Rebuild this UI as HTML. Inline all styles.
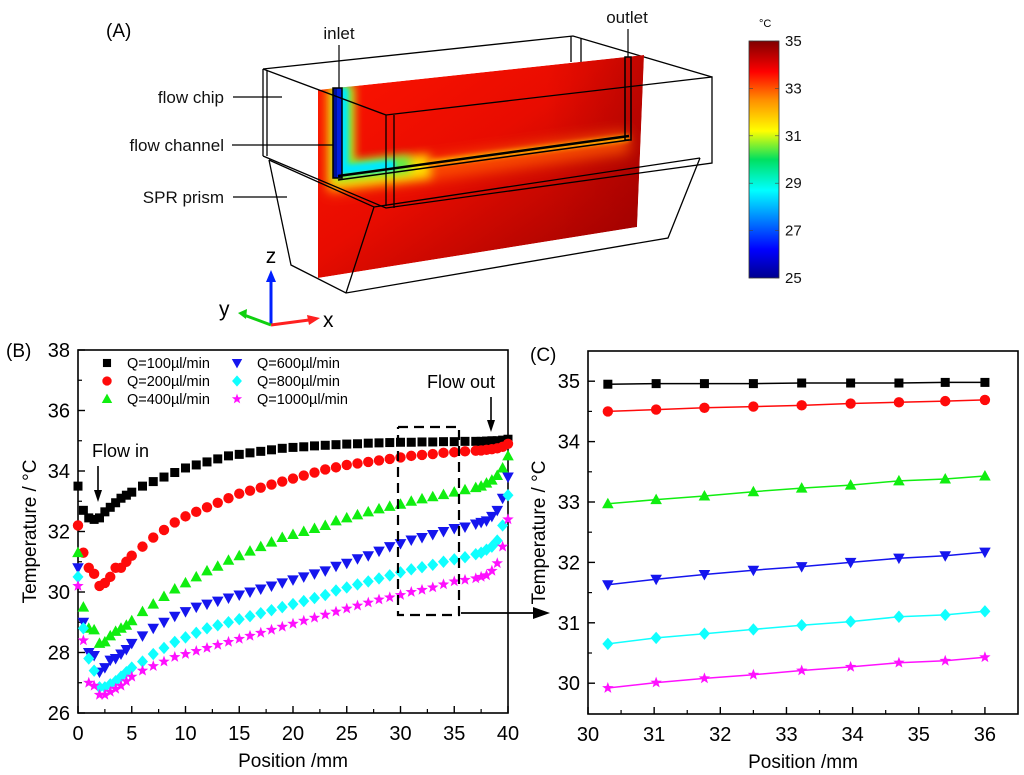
<!DOCTYPE html>
<html><head><meta charset="utf-8">
<style>
html,body{margin:0;padding:0;background:#fff;}
svg{display:block;font-family:"Liberation Sans",Arial,sans-serif;}
</style></head>
<body>
<svg id="fig" width="1024" height="775" viewBox="0 0 1024 775" xmlns="http://www.w3.org/2000/svg">
<defs>
  <clipPath id="planeClip"><polygon points="318,90 644,55 637,227 318,278"/></clipPath>
  <linearGradient id="planeGrad" x1="0" y1="0" x2="1" y2="1">
    <stop offset="0" stop-color="#ff1400"/>
    <stop offset="0.45" stop-color="#e80c00"/>
    <stop offset="1" stop-color="#920000"/>
  </linearGradient>
  <linearGradient id="planeGrad2" x1="0" y1="0" x2="1" y2="0">
    <stop offset="0" stop-color="#ff3000" stop-opacity="0.0"/>
    <stop offset="0.7" stop-color="#b00000" stop-opacity="0.0"/>
    <stop offset="1" stop-color="#a00000" stop-opacity="0.5"/>
  </linearGradient>
  <linearGradient id="jet" x1="0" y1="1" x2="0" y2="0">
    <stop offset="0" stop-color="#00008f"/>
    <stop offset="0.12" stop-color="#0000ff"/>
    <stop offset="0.37" stop-color="#00ffff"/>
    <stop offset="0.5" stop-color="#00e060"/>
    <stop offset="0.62" stop-color="#ffff00"/>
    <stop offset="0.75" stop-color="#ff9000"/>
    <stop offset="0.87" stop-color="#ff0000"/>
    <stop offset="1" stop-color="#800000"/>
  </linearGradient>
  <filter id="blur6" x="-50%" y="-50%" width="200%" height="200%"><feGaussianBlur stdDeviation="5"/></filter>
  <filter id="blur3" x="-50%" y="-50%" width="200%" height="200%"><feGaussianBlur stdDeviation="2.5"/></filter>
  <filter id="blur10" x="-50%" y="-50%" width="200%" height="200%"><feGaussianBlur stdDeviation="7"/></filter>
</defs>

<!-- ========== PANEL A ========== -->
<g>
  <text x="106" y="37" font-size="19">(A)</text>
  <g fill="none" stroke="#000" stroke-width="1.3">
    <polyline points="263,69 573,36 712,77"/>
    <line x1="571" y1="36" x2="571" y2="62"/>
    <line x1="581" y1="38" x2="581" y2="62"/>
    <line x1="263" y1="69" x2="263" y2="156"/>
    <line x1="267" y1="70" x2="267" y2="156"/>
  </g>
  <g clip-path="url(#planeClip)">
    <polygon points="318,90 644,55 637,227 318,278" fill="url(#planeGrad)"/>
    <polygon points="318,90 644,55 637,227 318,278" fill="url(#planeGrad2)"/>
    <polyline points="338,80 338,182 629,142" fill="none" stroke="#ff5a00" stroke-width="22" stroke-opacity="0.8" filter="url(#blur10)"/>
    <polyline points="341,85 341,176 430,166" fill="none" stroke="#ffe000" stroke-width="24" filter="url(#blur6)"/>
    <polyline points="343,85 343,171 410,164" fill="none" stroke="#50f050" stroke-width="16" filter="url(#blur6)"/>
    <polyline points="343,88 343,170 395,165" fill="none" stroke="#00e8ff" stroke-width="10" filter="url(#blur3)"/>
    <polyline points="430,163 629,138" fill="none" stroke="#ffb000" stroke-width="6" filter="url(#blur3)"/>
    <rect x="333" y="88" width="9" height="90" fill="#0020e0"/>
    <rect x="333" y="88" width="4" height="90" fill="#00109a"/>
  </g>
  <g fill="none" stroke="#000" stroke-width="1.5">
    <rect x="333" y="88" width="9" height="90"/>
    <polyline points="338,176 629,136" stroke-width="2.5"/>
    <polyline points="338,180 629,140" stroke-width="1.5"/>
    <rect x="625" y="57" width="6" height="83"/>
  </g>
  <g fill="none" stroke="#000" stroke-width="1.3">
    <polyline points="263,69 386,115 712,77 712,163 386,208 263,156"/>
    <line x1="386" y1="115" x2="386" y2="206"/>
    <line x1="394" y1="115" x2="394" y2="208"/>
    <polyline points="269,160 374,207 700,158"/>
    <polyline points="269,160 291,265 346,293 668,238 700,158"/>
    <line x1="374" y1="207" x2="346" y2="293"/>
  </g>
  <g font-size="17" fill="#111">
    <text x="224" y="103" text-anchor="end">flow chip</text>
    <text x="224" y="151" text-anchor="end">flow channel</text>
    <text x="224" y="203" text-anchor="end">SPR prism</text>
    <text x="339" y="39" text-anchor="middle">inlet</text>
    <text x="627" y="23" text-anchor="middle">outlet</text>
  </g>
  <g stroke="#000" stroke-width="1.2">
    <line x1="233" y1="97" x2="282" y2="97"/>
    <line x1="232" y1="145" x2="333" y2="145"/>
    <line x1="233" y1="197" x2="287" y2="197"/>
    <line x1="339" y1="45" x2="339" y2="88"/>
    <line x1="628" y1="29" x2="628" y2="57"/>
  </g>
  <g>
    <line x1="271" y1="325" x2="271" y2="280" stroke="#0020ff" stroke-width="3"/>
    <polygon points="266,282 276,282 271,270" fill="#0020ff"/>
    <line x1="271" y1="325" x2="309" y2="320" stroke="#ff2020" stroke-width="3"/>
    <polygon points="307,315 320,318 309,325" fill="#ff2020"/>
    <line x1="271" y1="325" x2="244" y2="315" stroke="#10d010" stroke-width="3"/>
    <polygon points="238,313 247,309 246,319" fill="#10d010"/>
    <text x="271" y="263" font-size="21" text-anchor="middle">z</text>
    <text x="323" y="327" font-size="21">x</text>
    <text x="219" y="316" font-size="21">y</text>
  </g>
  <g>
    <rect x="749" y="41" width="30" height="237" fill="url(#jet)" stroke="#333" stroke-width="0.8"/>
    <text x="759" y="27" font-size="11">°C</text>
    <g font-size="15" fill="#111" id="cbLabels"></g>
  </g>
</g>

<g id="panelB">
  <text x="6" y="357" font-size="19">(B)</text>
</g>
<g id="panelC">
  <text x="530" y="361" font-size="19">(C)</text>
</g>
</svg>

<script>
// ---------- data ----------
const cbTicks = [25, 27, 29, 31, 33, 35];
const seriesLabels = ["Q=100\u00b5l/min","Q=200\u00b5l/min","Q=400\u00b5l/min","Q=600\u00b5l/min","Q=800\u00b5l/min","Q=1000\u00b5l/min"];
const seriesColors = ["#000000","#ff0a0a","#10ee10","#1515ee","#10ffff","#ff10ff"];
const seriesMarkers = ["square","circle","triUp","triDown","diamond","star"];

const bX = [0,0.5,1,1.5,2,2.5,3,3.5,4,4.5,5,6,7,8,9,10,11,12,13,14,15,16,17,18,19,20,21,22,23,24,25,26,27,28,29,30,31,32,33,34,35,36,37,37.5,38,38.5,39,39.5,40];
const bQ100 = [33.5,32.7,32.45,32.4,32.45,32.65,32.8,32.95,33.1,33.2,33.3,33.5,33.65,33.8,33.95,34.1,34.2,34.3,34.4,34.5,34.55,34.6,34.65,34.7,34.75,34.78,34.8,34.83,34.85,34.87,34.89,34.9,34.92,34.93,34.94,34.95,34.95,34.96,34.96,34.97,34.97,34.98,34.98,34.98,34.99,35.0,35.0,35.02,35.05];
const bQ200 = [32.2,31.3,30.8,30.6,30.2,30.3,30.5,30.8,30.8,31.0,31.2,31.5,31.8,32.05,32.3,32.5,32.65,32.8,32.95,33.1,33.25,33.35,33.45,33.55,33.65,33.75,33.85,33.95,34.05,34.12,34.2,34.25,34.3,34.35,34.4,34.45,34.5,34.53,34.56,34.6,34.62,34.65,34.67,34.68,34.7,34.72,34.75,34.8,34.9];
const bQ400 = [31.3,29.5,28.8,28.75,28.3,28.35,28.55,28.7,28.8,28.9,29.05,29.35,29.6,29.85,30.1,30.3,30.5,30.7,30.85,31.05,31.2,31.35,31.5,31.65,31.8,31.9,32.0,32.1,32.2,32.35,32.45,32.55,32.65,32.75,32.83,32.9,33.0,33.08,33.15,33.22,33.3,33.38,33.45,33.5,33.6,33.7,33.85,34.1,34.5];
const bQ600 = [30.8,29.0,28.0,27.9,27.35,27.5,27.75,27.8,27.95,28.1,28.3,28.55,28.8,29.0,29.2,29.35,29.5,29.6,29.7,29.8,29.9,30.0,30.1,30.2,30.3,30.4,30.5,30.6,30.7,30.85,30.95,31.1,31.2,31.35,31.5,31.6,31.72,31.8,31.9,32.0,32.1,32.15,32.25,32.3,32.35,32.5,32.7,33.1,33.8];
const bQ800 = [30.5,28.8,27.8,27.4,26.85,26.85,26.95,27.05,27.2,27.35,27.5,27.7,27.95,28.15,28.35,28.5,28.65,28.8,28.9,29.0,29.1,29.2,29.3,29.4,29.5,29.6,29.7,29.8,29.9,30.05,30.15,30.25,30.35,30.45,30.55,30.65,30.75,30.82,30.9,31.0,31.08,31.15,31.25,31.3,31.4,31.5,31.7,32.2,33.2];
const bQ1000 = [30.2,28.4,27.0,26.9,26.6,26.6,26.7,26.8,26.9,27.05,27.2,27.4,27.55,27.7,27.85,27.95,28.05,28.15,28.25,28.35,28.45,28.55,28.65,28.75,28.85,28.95,29.05,29.15,29.25,29.35,29.45,29.55,29.65,29.75,29.82,29.9,30.0,30.07,30.15,30.25,30.35,30.4,30.45,30.5,30.55,30.7,30.95,31.5,32.4];
const bXTicks = [0,5,10,15,20,25,30,35,40];
const bYTicks = [26,28,30,32,34,36,38];

const cX = [30.3,31.03,31.76,32.5,33.23,33.97,34.7,35.4,36.0];
const cQ100 = [34.95,34.96,34.96,34.96,34.97,34.97,34.97,34.98,34.98];
const cQ200 = [34.5,34.53,34.56,34.58,34.6,34.63,34.65,34.67,34.69];
const cQ400 = [32.97,33.04,33.1,33.17,33.23,33.28,33.35,33.38,33.43];
const cQ600 = [31.63,31.72,31.8,31.87,31.93,32.0,32.07,32.11,32.17];
const cQ800 = [30.65,30.75,30.82,30.89,30.96,31.02,31.1,31.13,31.19];
const cQ1000 = [29.92,30.01,30.08,30.14,30.21,30.27,30.34,30.37,30.43];
const cXTicks = [30,31,32,33,34,35,36];
const cYTicks = [30,31,32,33,34,35];

const NS = "http://www.w3.org/2000/svg";
function mk(tag, attrs, parent){
  const e = document.createElementNS(NS, tag);
  for (const k in attrs) e.setAttribute(k, attrs[k]);
  parent.appendChild(e);
  return e;
}

const cbG = document.getElementById("cbLabels");
const cbY = v => 278 - (v - 25) / 10 * 237;
cbTicks.forEach(v => {
  const t = mk("text", {x: 785, y: cbY(v) + 5}, cbG);
  
  
  t.textContent = v;
  mk("line", {x1: 749, x2: 753, y1: cbY(v), y2: cbY(v), stroke: "#444", "stroke-width": 0.6}, cbG);
  mk("line", {x1: 775, x2: 779, y1: cbY(v), y2: cbY(v), stroke: "#444", "stroke-width": 0.6}, cbG);
});

function marker(g, type, cx, cy, s, color){
  let e;
  if (type === "square") e = mk("rect", {x: cx - s*0.45, y: cy - s*0.45, width: s*0.9, height: s*0.9, fill: color}, g);
  else if (type === "circle") e = mk("circle", {cx: cx, cy: cy, r: s*0.52, fill: color}, g);
  else if (type === "triUp") e = mk("polygon", {points: `${cx-s*0.58},${cy+s*0.45} ${cx+s*0.58},${cy+s*0.45} ${cx},${cy-s*0.6}`, fill: color}, g);
  else if (type === "triDown") e = mk("polygon", {points: `${cx-s*0.58},${cy-s*0.45} ${cx+s*0.58},${cy-s*0.45} ${cx},${cy+s*0.6}`, fill: color}, g);
  else if (type === "diamond") e = mk("polygon", {points: `${cx},${cy-s*0.62} ${cx+s*0.55},${cy} ${cx},${cy+s*0.62} ${cx-s*0.55},${cy}`, fill: color}, g);
  else {
    let p = [];
    for (let i = 0; i < 10; i++){
      const r = i % 2 ? s*0.25 : s*0.6;
      const a = -Math.PI/2 + i*Math.PI/5;
      p.push((cx + r*Math.cos(a)).toFixed(1) + "," + (cy + r*Math.sin(a)).toFixed(1));
    }
    e = mk("polygon", {points: p.join(" "), fill: color}, g);
  }
  return e;
}

function axes(g, L, R, T, B, xmin, xmax, ymin, ymax, xticks, yticks, xtitle, ytitle, ytitleX){
  const sx = v => L + (v - xmin) / (xmax - xmin) * (R - L);
  const sy = v => B - (v - ymin) / (ymax - ymin) * (B - T);
  const frame = mk("rect", {x: L, y: T, width: R - L, height: B - T, fill: "none", stroke: "#000", "stroke-width": 1.6}, g);
  
  
  xticks.forEach(v => {
    mk("line", {x1: sx(v), x2: sx(v), y1: B, y2: B - 7, stroke: "#000", "stroke-width": 1.4}, g);
    const t = mk("text", {x: sx(v), y: B + 27, "font-size": 20, "text-anchor": "middle"}, g);
    
    
    t.textContent = v;
  });
  for (let i = 0; i < xticks.length - 1; i++){
    const m = (xticks[i] + xticks[i+1]) / 2;
    mk("line", {x1: sx(m), x2: sx(m), y1: B, y2: B - 4, stroke: "#000", "stroke-width": 1.2}, g);
  }
  yticks.forEach(v => {
    mk("line", {x1: L, x2: L + 7, y1: sy(v), y2: sy(v), stroke: "#000", "stroke-width": 1.4}, g);
    const t = mk("text", {x: L - 8, y: sy(v) + 7, "font-size": 20, "text-anchor": "end"}, g);
    
    
    t.textContent = v;
  });
  for (let i = 0; i < yticks.length - 1; i++){
    const m = (yticks[i] + yticks[i+1]) / 2;
    mk("line", {x1: L, x2: L + 4, y1: sy(m), y2: sy(m), stroke: "#000", "stroke-width": 1.2}, g);
  }
  const xt = mk("text", {x: (L + R) / 2, y: B + 54, "font-size": 19, "text-anchor": "middle"}, g);
  
  
  xt.textContent = xtitle;
  const yt = mk("text", {x: 0, y: 0, "font-size": 19, "text-anchor": "middle", transform: `translate(${ytitleX},${(T + B) / 2}) rotate(-90)`}, g);
  
  
  yt.textContent = ytitle;
  return {sx, sy};
}

// ---------- Panel B ----------
const gB = document.getElementById("panelB");
const B = axes(gB, 78, 508, 350, 713, 0, 40, 26, 38, bXTicks, bYTicks, "Position /mm", "Temperature / \u00b0C", 36);
const bSeries = [bQ100, bQ200, bQ400, bQ600, bQ800, bQ1000];
bSeries.forEach((vals, si) => {
  const sg = mk("g", {}, gB);
  
  
  vals.forEach((v, i) => {
    const m = marker(sg, seriesMarkers[si], B.sx(bX[i]), B.sy(v), 10, seriesColors[si]);
    
    
  });
});
const legG = mk("g", {"font-size": 14.5}, gB);


seriesLabels.forEach((lab, i) => {
  const col = Math.floor(i / 3), row = i % 3;
  const mx = col ? 237 : 107, ty = 363 + row * 18;
  const e = mk("g", {}, legG);
  
  
  marker(e, seriesMarkers[i], mx, ty, 9, seriesColors[i]);
  const t = mk("text", {x: mx + 20, y: ty + 5}, e);
  t.textContent = lab;
});
const ann = mk("g", {}, gB);


const tIn = mk("text", {x: 92, y: 457, "font-size": 18}, ann);
tIn.textContent = "Flow in";
const tOut = mk("text", {x: 427, y: 388, "font-size": 18}, ann);
tOut.textContent = "Flow out";
mk("line", {x1: 98, x2: 98, y1: 466, y2: 493, stroke: "#000", "stroke-width": 1.6}, ann);
mk("polygon", {points: "94,490 102,490 98,502", fill: "#000"}, ann);
mk("line", {x1: 491, x2: 491, y1: 397, y2: 422, stroke: "#000", "stroke-width": 1.6}, ann);
mk("polygon", {points: "487,420 495,420 491,432", fill: "#000"}, ann);
const dash = mk("polyline", {points: "398,427 459,427 459,615 398,615 398,427", fill: "none", stroke: "#000", "stroke-width": 2.2, "stroke-dasharray": "10,6"}, ann);


mk("line", {x1: 461, x2: 535, y1: 613, y2: 613, stroke: "#000", "stroke-width": 1.8}, ann);
mk("polygon", {points: "533,607 550,613 533,619", fill: "#000"}, ann);

// ---------- Panel C ----------
const gC = document.getElementById("panelC");
const C = axes(gC, 588, 1018, 351, 714, 30, 36.5, 29.49, 35.5, cXTicks, cYTicks, "Position /mm", "Temperature / \u00b0C", 545);
const cSeries = [cQ100, cQ200, cQ400, cQ600, cQ800, cQ1000];
cSeries.forEach((vals, si) => {
  const sg = mk("g", {}, gC);
  
  
  const pts = vals.map((v, i) => C.sx(cX[i]).toFixed(1) + "," + C.sy(v).toFixed(1)).join(" ");
  const ln = mk("polyline", {points: pts, fill: "none", stroke: seriesColors[si], "stroke-width": 1.5}, sg);
  
  
  vals.forEach((v, i) => {
    const m = marker(sg, seriesMarkers[si], C.sx(cX[i]), C.sy(v), 10, seriesColors[si]);
    
    
  });
});
</script>
</body></html>
